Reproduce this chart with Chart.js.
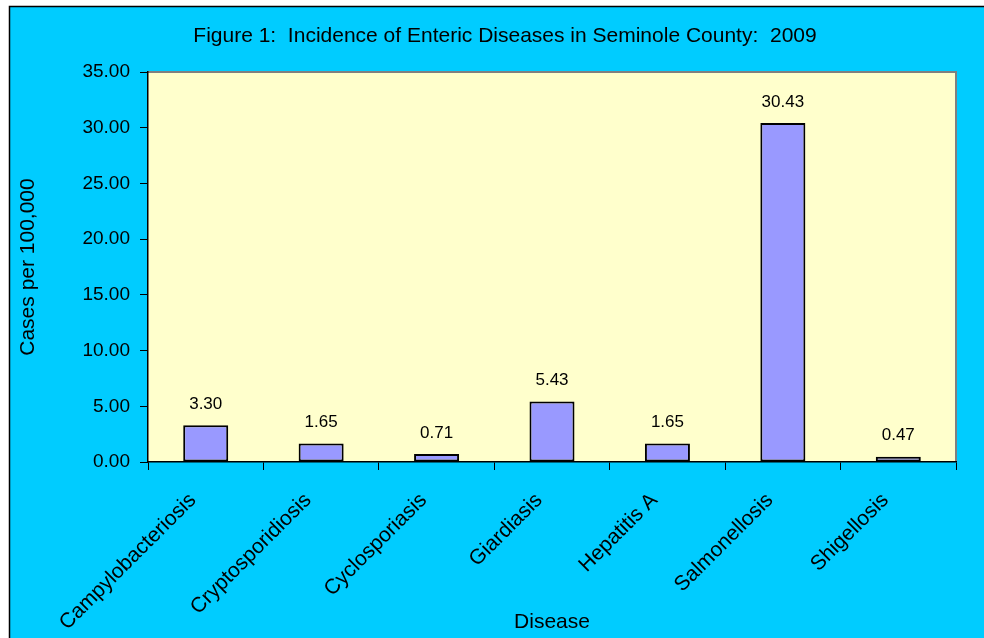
<!DOCTYPE html>
<html>
<head>
<meta charset="utf-8">
<script src="https://cdn.jsdelivr.net/npm/chart.js@4"></script>
<style>
    html, body { margin: 0; padding: 0; background: #ffffff; }
    #wrap { width: 984px; height: 638px; position: relative; }
</style>
</head>
<body>
<div id="wrap"><canvas id="entericChart"></canvas></div>
<script>
const diseases = ['Campylobacteriosis', 'Cryptosporidiosis', 'Cyclosporiasis', 'Giardiasis', 'Hepatitis A', 'Salmonellosis', 'Shigellosis'];
const ratesPer100k = [3.30, 1.65, 0.71, 5.43, 1.65, 30.43, 0.47];
const yTicks = [0, 5, 10, 15, 20, 25, 30, 35];
const chartTitle = 'Figure 1:  Incidence of Enteric Diseases in Seminole County:  2009';

const FONT = '"Liberation Sans", Arial, sans-serif';
Chart.defaults.font.family = FONT;
Chart.defaults.color = '#000000';

// Cyan frame, black border lines, yellow plot area and the title
const backgroundPlugin = {
    id: 'excelBackground',
    beforeDraw(chart) {
        const ctx = chart.ctx;
        const area = chart.chartArea;
        ctx.save();
        ctx.fillStyle = '#ffffff';
        ctx.fillRect(0, 0, chart.width, chart.height);
        ctx.fillStyle = '#00ccff';
        ctx.fillRect(9, 6, chart.width - 9, chart.height - 6);
        ctx.strokeStyle = '#000000';
        ctx.lineWidth = 1.5;
        ctx.beginPath();
        ctx.moveTo(9.5, chart.height);
        ctx.lineTo(9.5, 6.5);
        ctx.lineTo(chart.width, 6.5);
        ctx.stroke();

        ctx.fillStyle = '#ffffcc';
        ctx.fillRect(area.left, area.top, area.right - area.left, area.bottom - area.top);
        ctx.strokeStyle = '#808080';
        ctx.lineWidth = 2;
        ctx.beginPath();
        ctx.moveTo(area.left, area.top);
        ctx.lineTo(area.right, area.top);
        ctx.lineTo(area.right, area.bottom);
        ctx.stroke();

        // title sits a bit right of the plot centre, like the original
        ctx.fillStyle = '#000000';
        ctx.font = '21px ' + FONT;
        ctx.textAlign = 'center';
        ctx.textBaseline = 'middle';
        ctx.fillText(chartTitle, 505, 36);
        ctx.restore();
    }
};

// Value labels above each bar
const valueLabelPlugin = {
    id: 'valueLabels',
    afterDatasetsDraw(chart) {
        const ctx = chart.ctx;
        const meta = chart.getDatasetMeta(0);
        ctx.save();
        ctx.font = '17px ' + FONT;
        ctx.fillStyle = '#000000';
        ctx.textAlign = 'center';
        ctx.textBaseline = 'middle';
        meta.data.forEach((bar, i) => {
            ctx.fillText(ratesPer100k[i].toFixed(2), bar.x, bar.y - 21);
        });
        ctx.restore();
    }
};

const ctx = document.getElementById('entericChart');
new Chart(ctx, {
    type: 'bar',
    data: {
        labels: diseases,
        datasets: [{
            label: 'Cases per 100,000',
            data: ratesPer100k,
            backgroundColor: '#9999ff',
            borderColor: '#000000',
            borderWidth: 2,
            borderSkipped: false,
            categoryPercentage: 1.0,
            barPercentage: 0.39
        }]
    },
    options: {
        responsive: true,
        maintainAspectRatio: false,
        animation: false,
        layout: {
            padding: { left: 16, right: 28, top: 72, bottom: 0 }
        },
        plugins: {
            legend: { display: false },
            tooltip: { enabled: false },
            title: { display: false }
        },
        scales: {
            x: {
                grid: {
                    drawOnChartArea: false,
                    drawTicks: true,
                    tickLength: 8,
                    tickColor: '#000000',
                    offset: true
                },
                border: { color: '#000000', width: 1.5 },
                ticks: {
                    font: { size: 21 },
                    minRotation: 45,
                    maxRotation: 45,
                    autoSkip: false,
                    padding: 18,
                    labelOffset: -13
                },
                title: {
                    display: true,
                    text: 'Disease',
                    font: { size: 21, lineHeight: 1.2 },
                    padding: { top: 0, bottom: 3 }
                },
                afterFit(scale) { scale.height = 176; }
            },
            y: {
                min: 0,
                max: 35,
                grid: {
                    drawOnChartArea: false,
                    drawTicks: true,
                    tickLength: 8,
                    tickColor: '#000000'
                },
                border: { color: '#000000', width: 1.5 },
                afterBuildTicks(scale) {
                    scale.ticks = yTicks.map(v => ({ value: v }));
                },
                ticks: {
                    font: { size: 19 },
                    padding: 10,
                    callback: function(value) {
                        return Number(value).toFixed(2);
                    }
                },
                title: {
                    display: true,
                    text: 'Cases per 100,000',
                    font: { size: 21, lineHeight: 1.0 },
                    padding: { top: 1.5, bottom: 0 }
                },
                afterFit(scale) { scale.width = 132; }
            }
        }
    },
    plugins: [backgroundPlugin, valueLabelPlugin]
});
</script>
</body>
</html>
